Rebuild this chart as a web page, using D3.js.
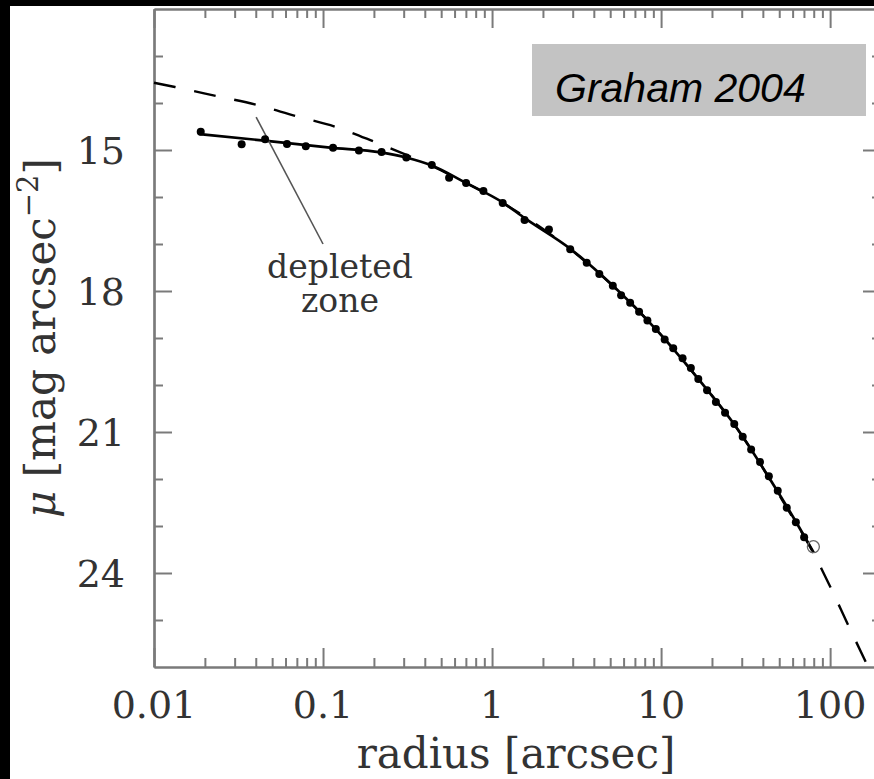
<!DOCTYPE html>
<html>
<head>
<meta charset="utf-8">
<script src="https://cdn.jsdelivr.net/npm/d3@7"></script>
<style>
  body { margin: 0; background: #000; }
  svg { display: block; }
</style>
</head>
<body>
<script>
// measured points (filled dots), radius in arcsec, mu in mag/arcsec^2
var radius = [0.0189, 0.0330, 0.0454, 0.0612, 0.0791, 0.1146, 0.163, 0.222, 0.311, 0.440,
              0.557, 0.702, 0.889, 1.156, 1.557, 2.17, 2.90, 3.63, 4.31, 5.18,
              5.80, 6.56, 7.41, 8.30, 9.31, 10.5, 11.8, 13.4, 15.0, 16.6,
              18.7, 21.1, 23.9, 27.1, 30.4, 34.1, 38.5, 43.4, 49.0, 55.4,
              62.7, 70.2];
var mu = [14.61, 14.88, 14.77, 14.87, 14.92, 14.95, 15.01, 15.04, 15.16, 15.32,
          15.59, 15.70, 15.87, 16.13, 16.49, 16.69, 17.11, 17.40, 17.64, 17.89,
          18.09, 18.25, 18.44, 18.63, 18.81, 19.03, 19.22, 19.43, 19.64, 19.87,
          20.11, 20.36, 20.59, 20.83, 21.10, 21.37, 21.64, 21.94, 22.25, 22.61,
          22.92, 23.24];
// open (excluded) point
var openR = [79.6];
var openMu = [23.44];

// core-Sersic fit (solid)
var fitR = [0.0185, 0.045, 0.11, 0.22, 0.31, 0.44, 0.70, 1.16, 1.56, 2.9, 5.2, 9.3, 16.6, 27, 43, 63, 80];
var fitMu = [14.66, 14.80, 14.95, 15.05, 15.16, 15.33, 15.70, 16.12, 16.45, 17.10, 17.89, 18.81, 19.87, 20.83, 21.94, 22.92, 23.57];

// Sersic model (dashed)
var serR = [0.01, 0.0133, 0.0233, 0.0406, 0.0692, 0.119, 0.203, 0.314, 0.44, 0.70, 1.16, 2.9, 5.18, 9.31, 16.6, 30.4, 55.4, 79.6, 101, 128, 168];
var serMu = [13.57, 13.66, 13.85, 14.04, 14.28, 14.51, 14.83, 15.11, 15.34, 15.70, 16.13, 17.11, 17.89, 18.81, 19.87, 21.10, 22.61, 23.57, 24.32, 25.11, 26.0];

// pointer of the "depleted zone" note
var ptrR = [0.0402, 0.1];
var ptrMu = [14.30, 17.0];

var xMajor = [0.01, 0.1, 1, 10, 100];
var xLabels = ["0.01", "0.1", "1", "10", "100"];
var yMajor = [15, 18, 21, 24];
var yLabels = ["15", "18", "21", "24"];

function draw() {
  var W = 874, H = 779;
  var pl = 154, pr = 881, pt = 9, pb = 667;
  var axisGrey = "#7a7a7a";
  var textFont = "DejaVu Serif";
  var textCol = "#333";

  var svg = d3.select("body").append("svg")
      .attr("width", W)
      .attr("height", H);

  svg.append("rect").attr("width", W).attr("height", H).attr("fill", "#000");
  svg.append("rect").attr("x", 10).attr("y", 6).attr("width", W - 10).attr("height", H - 6).attr("fill", "#fff");

  var x = d3.scaleLog().domain([0.01, 200]).range([pl, pr]);
  var y = d3.scaleLinear().domain([12, 26]).range([pt, pb]);

  // minor ticks
  var xMinor = [];
  xMajor.forEach(function (d) {
    for (var k = 2; k <= 9; k++) {
      if (d * k < 195) xMinor.push(d * k);
    }
  });
  var yMinor = d3.range(13, 26).filter(function (v) { return yMajor.indexOf(v) < 0; });

  function styleAxis(g) {
    g.selectAll("path").attr("stroke", axisGrey).attr("stroke-width", 2.2);
    g.selectAll("line").attr("stroke", axisGrey).attr("stroke-width", 2);
    g.selectAll("text").remove();
  }

  // bottom and top
  [[pb, d3.axisBottom], [pt, d3.axisTop]].forEach(function (a) {
    svg.append("g").attr("transform", "translate(0," + a[0] + ")")
      .call(a[1](x).tickValues(xMajor).tickSizeInner(-19).tickSizeOuter(0)).call(styleAxis);
    svg.append("g").attr("transform", "translate(0," + a[0] + ")")
      .call(a[1](x).tickValues(xMinor).tickSizeInner(-9).tickSizeOuter(0)).call(styleAxis);
  });
  // left and right
  [[pl, d3.axisLeft], [pr, d3.axisRight]].forEach(function (a) {
    svg.append("g").attr("transform", "translate(" + a[0] + ",0)")
      .call(a[1](y).tickValues(yMajor).tickSizeInner(-18).tickSizeOuter(0)).call(styleAxis);
    svg.append("g").attr("transform", "translate(" + a[0] + ",0)")
      .call(a[1](y).tickValues(yMinor).tickSizeInner(-9).tickSizeOuter(0)).call(styleAxis);
  });

  // tick labels
  svg.selectAll(".xlab").data(xMajor).enter().append("text")
      .attr("x", function (d) { return x(d); })
      .attr("y", 718)
      .attr("text-anchor", "middle")
      .attr("font-family", textFont)
      .attr("font-size", "38px")
      .attr("fill", textCol)
      .text(function (d, i) { return xLabels[i]; });

  svg.selectAll(".ylab").data(yMajor).enter().append("text")
      .attr("x", 125)
      .attr("y", function (d) { return y(d) + 14; })
      .attr("text-anchor", "end")
      .attr("font-family", textFont)
      .attr("font-size", "38px")
      .attr("fill", textCol)
      .text(function (d, i) { return yLabels[i]; });

  // axis titles
  svg.append("text")
      .attr("x", 516)
      .attr("y", 768)
      .attr("text-anchor", "middle")
      .attr("font-family", textFont)
      .attr("font-size", "42px")
      .attr("fill", textCol)
      .text("radius [arcsec]");

  var yt = svg.append("text")
      .attr("transform", "translate(55,338) rotate(-90)")
      .attr("text-anchor", "middle")
      .attr("font-family", textFont)
      .attr("font-size", "42px")
      .attr("fill", textCol);
  yt.append("tspan").attr("font-style", "italic").text("\u03bc");
  yt.append("tspan").text(" [mag arcsec");
  yt.append("tspan").attr("dy", -17).attr("font-size", "29px").text("\u22122");
  yt.append("tspan").attr("dy", 17).text("]");

  // lines
  var line = d3.line()
      .x(function (d) { return x(d[0]); })
      .y(function (d) { return y(d[1]); })
      .curve(d3.curveMonotoneX);

  svg.append("path")
      .attr("d", line(d3.zip(serR, serMu)))
      .attr("fill", "none")
      .attr("stroke", "#000")
      .attr("stroke-width", 2.4)
      .attr("stroke-dasharray", "22,19");

  svg.append("path")
      .attr("d", line(d3.zip(fitR, fitMu)))
      .attr("fill", "none")
      .attr("stroke", "#000")
      .attr("stroke-width", 2.7);

  // pointer
  svg.append("path")
      .attr("d", d3.line().x(function (d) { return x(d[0]); }).y(function (d) { return y(d[1]); })(d3.zip(ptrR, ptrMu)))
      .attr("stroke", "#555")
      .attr("stroke-width", 1.6);

  // points
  svg.selectAll(".pt").data(d3.zip(radius, mu)).enter().append("circle")
      .attr("cx", function (d) { return x(d[0]); })
      .attr("cy", function (d) { return y(d[1]); })
      .attr("r", 4)
      .attr("fill", "#000");

  svg.selectAll(".op").data(d3.zip(openR, openMu)).enter().append("circle")
      .attr("cx", function (d) { return x(d[0]); })
      .attr("cy", function (d) { return y(d[1]); })
      .attr("r", 6)
      .attr("fill", "none")
      .attr("stroke", "#666")
      .attr("stroke-width", 1.3);

  // note
  svg.append("text")
      .attr("x", 340).attr("y", 278)
      .attr("text-anchor", "middle")
      .attr("font-family", textFont)
      .attr("font-size", "33px")
      .attr("fill", textCol)
      .text("depleted");
  svg.append("text")
      .attr("x", 340).attr("y", 312)
      .attr("text-anchor", "middle")
      .attr("font-family", textFont)
      .attr("font-size", "33px")
      .attr("fill", textCol)
      .text("zone");

  // citation box
  svg.append("rect")
      .attr("x", 532).attr("y", 44)
      .attr("width", 334).attr("height", 72)
      .attr("fill", "#c3c3c3");
  svg.append("text")
      .attr("x", 555).attr("y", 102)
      .attr("font-family", "Liberation Sans")
      .attr("font-style", "italic")
      .attr("font-size", "41px")
      .attr("fill", "#000")
      .text("Graham 2004");
}
draw();
</script>
</body>
</html>
